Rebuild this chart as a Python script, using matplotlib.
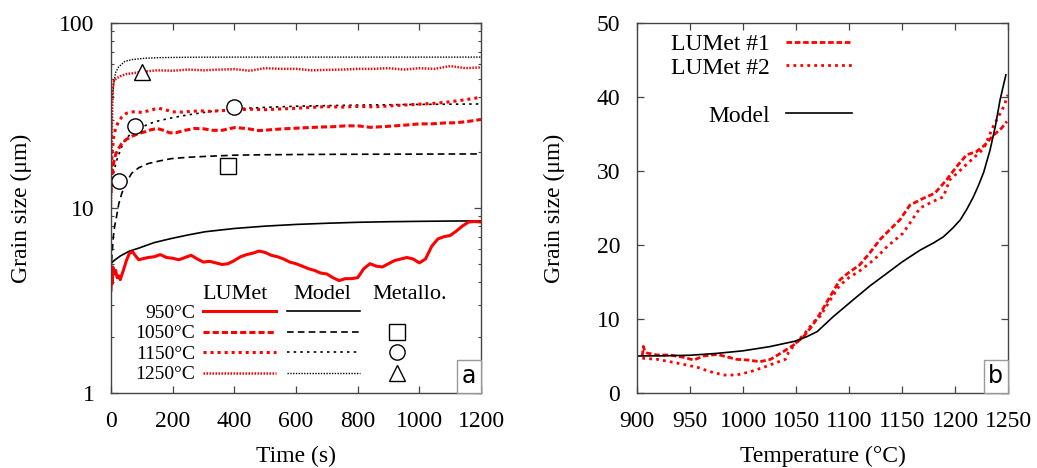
import matplotlib
matplotlib.use("Agg")
import matplotlib.pyplot as plt
import matplotlib.ticker as mticker
from matplotlib.lines import Line2D
from matplotlib.offsetbox import AnchoredText

plt.rcParams['font.family'] = ['Liberation Serif', 'DejaVu Serif']

# ---------------- panel a : grain size vs time (log scale) ----------------
temps = ["950°C", "1050°C", "1150°C", "1250°C"]

# LUMet measurements
t_lum_950 = [0, 2, 4, 6, 10, 15, 20, 25, 30, 40, 50, 60, 70, 80, 90, 100, 120, 140, 160,
             180, 200, 220, 240, 260, 280, 300, 320, 340, 360, 380, 400, 420, 440, 460,
             480, 500, 520, 540, 560, 580, 600, 620, 640, 660, 680, 700, 720, 740, 760,
             780, 800, 820, 840, 860, 880, 900, 920, 940, 960, 980, 1000, 1020, 1040,
             1060, 1080, 1100, 1120, 1140, 1160, 1180, 1200]
d_lum_950 = [3.6, 4.5, 3.9, 4.8, 4.4, 4.6, 4.2, 4.3, 4.1, 4.6, 5.2, 5.7, 5.8, 5.5, 5.25,
             5.3, 5.4, 5.45, 5.6, 5.4, 5.35, 5.25, 5.4, 5.55, 5.3, 5.1, 5.15, 5.05, 4.95,
             5.0, 5.2, 5.45, 5.6, 5.7, 5.85, 5.75, 5.55, 5.45, 5.3, 5.1, 5.0, 4.85, 4.7,
             4.6, 4.45, 4.4, 4.2, 4.05, 4.15, 4.15, 4.2, 4.7, 5.0, 4.85, 4.8, 5.0, 5.2,
             5.3, 5.4, 5.3, 5.05, 5.3, 6.2, 6.8, 7.0, 7.1, 7.5, 8.0, 8.4, 8.45, 8.4]

t_lum_1050 = [0, 3, 8, 15, 25, 35, 50, 70, 90, 110, 130, 150, 170, 190, 210, 240, 270,
              300, 330, 360, 400, 440, 480, 520, 560, 600, 640, 680, 720, 760, 800, 840,
              880, 920, 960, 1000, 1040, 1080, 1120, 1160, 1200]
d_lum_1050 = [12, 15, 17.4, 19.5, 21, 22.3, 23.5, 24.5, 25.3, 25.8, 26.5, 26.9, 26.3,
              25.5, 25.5, 26.3, 26.9, 26.8, 26.3, 26.3, 27.2, 26.9, 26.2, 26.5, 26.8,
              27.0, 27.2, 27.4, 27.5, 27.8, 27.8, 27.3, 27.5, 27.8, 28.1, 28.5, 28.5,
              28.8, 28.9, 29.4, 30.1]

t_lum_1150 = [0, 3, 8, 15, 25, 35, 50, 65, 80, 100, 120, 140, 155, 175, 200, 230, 260,
              290, 320, 360, 400, 450, 500, 550, 600, 650, 700, 750, 800, 850, 900, 950,
              1000, 1050, 1100, 1150, 1200]
d_lum_1150 = [14, 19, 24, 27, 29.5, 31, 32.5, 33.0, 33.2, 32.8, 33.5, 34.2, 34.6, 34.0,
              33.1, 33.0, 33.3, 33.5, 33.3, 33.6, 33.9, 34.2, 34.0, 34.3, 34.6, 35.0,
              35.3, 35.1, 35.4, 35.2, 35.6, 36.0, 36.4, 36.8, 37.5, 38.5, 39.7]

t_lum_1250 = [0, 2, 4, 6, 10, 20, 35, 50, 70, 100, 150, 200, 250, 300, 350, 400, 450,
              500, 550, 600, 650, 700, 750, 800, 850, 900, 950, 1000, 1050, 1100, 1150,
              1200]
d_lum_1250 = [10, 20, 35, 45, 49, 50.5, 52, 53, 53.5, 54.5, 55.5, 55.2, 56, 55.5, 56,
              56.3, 55.2, 57, 56.5, 56.5, 55.5, 55.8, 56, 56.5, 56.5, 57, 56, 57, 56.5,
              58.5, 57, 57.5]

# model predictions
t_mod_950 = [0, 10, 30, 60, 89, 140, 197, 250, 305, 400, 500, 600, 700, 800, 900, 1000,
             1100, 1200]
d_mod_950 = [5.0, 5.2, 5.5, 5.85, 6.06, 6.5, 6.85, 7.15, 7.44, 7.75, 7.98, 8.15, 8.27,
             8.37, 8.43, 8.47, 8.5, 8.52]

t_mod_1050 = [0, 3, 7.6, 12, 18, 25, 35, 50, 67, 90, 121, 160, 197, 250, 305, 400, 500,
              700, 1200]
d_mod_1050 = [4.5, 5.5, 7, 8, 9.0, 10.5, 12.0, 13.8, 15.4, 16.5, 17.4, 18.0, 18.5, 18.8,
              19.0, 19.3, 19.4, 19.5, 19.6]

t_mod_1150 = [0, 5, 10, 18, 24, 35, 45, 65, 89, 120, 143, 200, 251, 320, 391, 500, 600,
              800, 1000, 1200]
d_mod_1150 = [12, 14, 16, 18, 19.2, 21.5, 23.3, 25.3, 26.9, 28.3, 29.3, 30.8, 31.9, 33.2,
              34.3, 35.0, 35.5, 36.0, 36.3, 36.5]

t_mod_1250 = [0, 3, 6, 10, 15, 25, 45, 70, 110, 160, 250, 400, 600, 800, 1000, 1200]
d_mod_1250 = [14, 32, 42, 49, 54, 58, 62, 63.5, 64.5, 65, 65.3, 65.4, 65.4, 65.4, 65.4,
              65.4]

# metallographic measurements
t_met_1050 = [380]
d_met_1050 = [16.9]
t_met_1150 = [26, 78, 400]
d_met_1150 = [14.0, 27.9, 35.0]
t_met_1250 = [102]
d_met_1250 = [54.6]

# ---------------- panel b : grain size vs temperature ----------------
T_lum1 = [905, 906, 907.5, 909.4, 919, 931, 944, 953.5, 963, 975.5, 994, 1005, 1016, 1026,
          1038, 1048, 1057, 1066, 1073, 1082, 1091.5, 1100, 1110, 1120, 1129, 1138, 1148,
          1157.5, 1170, 1181, 1192, 1201.6, 1211, 1220, 1228, 1236, 1244, 1249]
d_lum1 = [5.0, 6.3, 5.6, 5.4, 5.14, 5.14, 4.82, 4.46, 5.0, 5.22, 4.55, 4.45, 4.23, 4.55,
          5.59, 6.5, 7.6, 9.2, 10.8, 13.0, 15.3, 16.3, 17.3, 19.0, 20.7, 22.0, 23.4, 25.4,
          26.3, 27.0, 28.8, 30.6, 32.2, 32.6, 33.5, 34.8, 35.8, 36.7]

T_lum2 = [905, 919, 931, 944, 957, 969, 982, 994, 1007, 1019.5, 1032, 1040, 1043, 1050,
          1058, 1066, 1073, 1082, 1091, 1100, 1110, 1120, 1128, 1136, 1151, 1160, 1167,
          1179.5, 1189, 1195, 1205, 1217, 1227, 1236, 1246, 1250]
d_lum2 = [4.7, 4.55, 4.23, 3.87, 3.47, 2.88, 2.43, 2.43, 2.88, 3.47, 4.14, 4.55, 5.5, 6.8,
          8.0, 9.5, 10.4, 12.5, 14.5, 15.6, 16.5, 17.6, 18.6, 19.8, 21.6, 23.5, 25.0, 25.9,
          26.5, 28.8, 30.1, 31.7, 33.0, 36.0, 38.7, 40.3]

T_mod = [900, 925, 950, 975, 1000, 1025, 1049, 1060, 1070, 1085, 1104, 1120, 1136, 1150,
         1167, 1180, 1189, 1198, 1205, 1211, 1217, 1222, 1227, 1233, 1238, 1242.5, 1248]
d_mod = [5.0, 5.03, 5.1, 5.35, 5.7, 6.26, 7.0, 7.6, 8.3, 10.3, 12.6, 14.5, 16.2, 17.7,
         19.3, 20.3, 21.1, 22.3, 23.4, 24.8, 26.4, 28.0, 29.8, 32.8, 36.0, 39.6, 43.0]

RED = '#ff0000'
lum_styles = [dict(ls='-', lw=2.2),
              dict(ls=(0, (2, 1)), lw=2.2),
              dict(ls=(0, (1, 1.3)), lw=2.2),
              dict(ls=(0, (0.6, 0.6)), lw=1.8)]
mod_styles = [dict(ls='-', lw=1.2),
              dict(ls=(0, (4, 2.5)), lw=1.2),
              dict(ls=(0, (1.5, 2.5)), lw=1.2),
              dict(ls=(0, (1, 1)), lw=1.0)]

fig = plt.figure(figsize=(10.37, 4.68), dpi=100)
axa = fig.add_axes([111 / 1037, 75 / 468, 370 / 1037, 370 / 468])
axb = fig.add_axes([637 / 1037, 75 / 468, 371 / 1037, 370 / 468])

# ---- panel a ----
lum_series = [(t_lum_950, d_lum_950), (t_lum_1050, d_lum_1050),
              (t_lum_1150, d_lum_1150), (t_lum_1250, d_lum_1250)]
mod_series = [(t_mod_950, d_mod_950), (t_mod_1050, d_mod_1050),
              (t_mod_1150, d_mod_1150), (t_mod_1250, d_mod_1250)]

lum_handles, mod_handles = [], []
for (t, d), st in zip(mod_series, mod_styles):
    h, = axa.plot(t, d, color='black', linestyle=st['ls'], lw=st['lw'])
    mod_handles.append(h)
for (t, d), st in zip(lum_series, lum_styles):
    h, = axa.plot(t, d, color=RED, linestyle=st['ls'], lw=st['lw'])
    lum_handles.append(h)

mk = dict(color='black', mfc='white', mew=1.0, ls='none')
h_sq, = axa.plot(t_met_1050, d_met_1050, marker='s', ms=12, **mk)
h_ci, = axa.plot(t_met_1150, d_met_1150, marker='o', ms=11, **mk)
h_tr, = axa.plot(t_met_1250, d_met_1250, marker='^', ms=11, **mk)

axa.set_yscale('log')
axa.set_xlim(0, 1200)
axa.set_ylim(1, 100)
axa.set_xticks(range(0, 1201, 200))
axa.yaxis.set_major_formatter(mticker.FormatStrFormatter('%g'))
axa.yaxis.set_minor_formatter(mticker.NullFormatter())
axa.set_xlabel('Time (s)', fontsize=17)
axa.set_ylabel('Grain size (μm)', fontsize=17)
axa.xaxis.set_label_coords(0.5, -0.142)
axa.yaxis.set_label_coords(-0.214, 0.5)

leg1 = axa.legend(lum_handles + mod_handles, temps + [''] * 4, ncol=2, markerfirst=False,
                  loc='upper right', bbox_to_anchor=(0.70, 0.266), borderpad=0,
                  handlelength=3.75, handletextpad=0.4, columnspacing=0.2,
                  labelspacing=0.15, frameon=False, fontsize=14)
axa.add_artist(leg1)
blank = Line2D([], [], ls='none')
axa.legend([blank, h_sq, h_ci, h_tr], [''] * 4, loc='upper center',
           bbox_to_anchor=(0.773, 0.266), borderpad=0, handlelength=1,
           handletextpad=0, labelspacing=0.15, frameon=False, fontsize=14)
for txt, xc in [('LUMet', 0.335), ('Model', 0.570), ('Metallo.', 0.808)]:
    axa.text(xc, 0.265, txt, transform=axa.transAxes, ha='center', va='center',
             fontsize=16)

# ---- panel b ----
hb1, = axb.plot(T_lum1, d_lum1, color=RED, ls=(0, (2, 1)), lw=2.0)
hb2, = axb.plot(T_lum2, d_lum2, color=RED, ls=(0, (1, 1.5)), lw=2.0)
hbm, = axb.plot(T_mod, d_mod, color='black', lw=1.2)
axb.set_xlim(900, 1250)
axb.set_ylim(0, 50)
axb.set_xticks(range(900, 1251, 50))
axb.set_yticks(range(0, 51, 10))
axb.set_xlabel('Temperature (°C)', fontsize=17)
axb.set_ylabel('Grain size (μm)', fontsize=17)
axb.xaxis.set_label_coords(0.5, -0.142)
axb.yaxis.set_label_coords(-0.194, 0.5)
axb.legend([hb1, hb2, blank, hbm], ['LUMet #1', 'LUMet #2', '', 'Model'],
           markerfirst=False, loc='upper right', bbox_to_anchor=(0.612, 1.004),
           borderpad=0, handlelength=2.8, handletextpad=0.68, labelspacing=0.1,
           frameon=False, fontsize=17)

for ax, lab in [(axa, 'a'), (axb, 'b')]:
    for sp in ax.spines.values():
        sp.set_color('#444444')
        sp.set_linewidth(1.0)
    ax.tick_params(which='both', direction='in', top=True, right=True,
                   color='#444444', labelsize=17)
    ax.tick_params(which='major', length=5, width=0.9)
    ax.tick_params(which='minor', length=2.5, width=0.8)
    ax.tick_params(axis='x', pad=13)
    ax.tick_params(axis='y', pad=12)
    at = AnchoredText(lab, loc='lower right', frameon=True, pad=0.2, borderpad=0,
                      prop=dict(size=17, family='DejaVu Sans'))
    at.patch.set_edgecolor('#999999')
    at.patch.set_linewidth(1.0)
    ax.add_artist(at)

fig.savefig('out.png', dpi=100)
